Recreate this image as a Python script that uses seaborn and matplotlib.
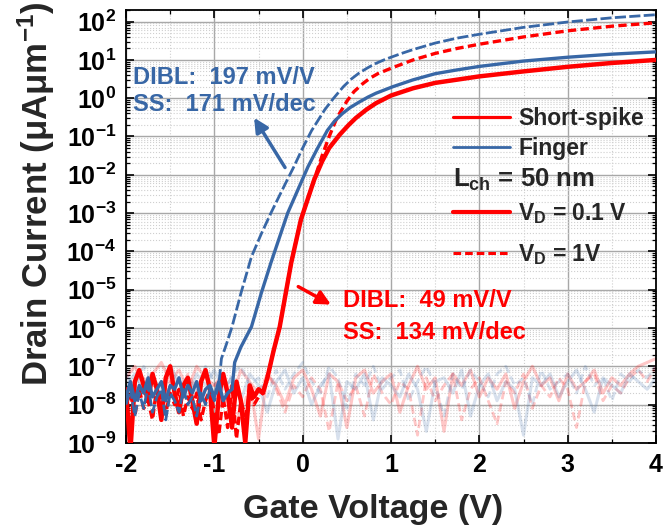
import numpy as np
import matplotlib
matplotlib.use("Agg")
import matplotlib.pyplot as plt
import seaborn as sns
from matplotlib.lines import Line2D
from matplotlib.ticker import LogLocator, FuncFormatter, MultipleLocator, NullFormatter, FixedLocator

# ---------------- data (log10 of drain current, uA/um) ----------------
# main curves: Finger (blue) and Short-spike (red); VD=0.1 V solid, VD=1 V dashed
bd_floor = [-8.0, -7.6, -8.3, -7.7, -8.1, -7.5, -8.2, -7.8, -7.6, -8.4, -7.7,
            -7.9, -8.2, -7.6, -8.0, -7.8, -8.3, -7.7, -8.0, -7.6, -7.9]
bd_x = [-0.95, -0.92, -0.86, -0.80, -0.70, -0.58, -0.47, -0.36, -0.20, -0.10, 0.00, 0.10,
        0.25, 0.35, 0.46, 0.55, 0.64, 0.74, 0.83, 0.92, 1.00, 1.12, 1.25, 1.50, 1.75,
        2.00, 2.50, 3.00, 3.50, 4.00]
bd_y = [-7.5, -6.8, -6.4, -5.97, -5.1, -4.14, -3.55, -3.0, -2.25, -1.79, -1.3, -0.85,
        -0.3, 0.0, 0.3, 0.5, 0.66, 0.8, 0.91, 1.0, 1.07, 1.17, 1.27, 1.44, 1.57,
        1.67, 1.85, 1.99, 2.1, 2.18]

bs_floor = [-7.8, -7.4, -7.9, -7.5, -7.7, -7.3, -7.8, -7.6, -7.4, -7.9, -7.5, -7.6,
            -7.3, -7.8, -7.5, -7.7, -7.4, -7.9, -7.6, -7.5, -7.8, -7.4, -7.9, -7.7]
bs_x = [-0.80, -0.77, -0.70, -0.58, -0.47, -0.36, -0.17, 0.06, 0.17, 0.28, 0.36, 0.45,
        0.54, 0.64, 0.74, 0.83, 1.02, 1.25, 1.50, 1.75, 2.00, 2.50, 3.00, 3.50, 4.00]
bs_y = [-7.6, -6.9, -6.5, -5.97, -5.1, -4.3, -3.0, -1.79, -1.3, -0.84, -0.6, -0.4,
        -0.24, -0.1, 0.03, 0.13, 0.3, 0.48, 0.64, 0.74, 0.83, 0.97, 1.07, 1.15, 1.21]

rd_floor = [-8.0, -7.7, -8.3, -7.6, -8.1, -7.9, -8.4, -7.5, -7.9, -8.2, -7.7, -8.0,
            -7.6, -8.3, -7.8, -8.1, -7.7, -8.4, -7.9, -7.6, -8.2, -8.8, -7.8, -8.6,
            -7.5, -8.9, -7.9, -8.3, -7.7, -8.0, -7.8]
rd_x = [-0.45, -0.40, -0.33, -0.26, -0.13, -0.02, 0.13, 0.22, 0.30, 0.39, 0.50, 0.58,
        0.68, 0.76, 0.85, 1.02, 1.25, 1.50, 1.75, 2.00, 2.50, 3.00, 3.50, 4.00]
rd_y = [-7.7, -7.3, -6.6, -5.97, -4.3, -3.17, -2.13, -1.5, -1.0, -0.5, -0.08, 0.17,
        0.38, 0.52, 0.64, 0.8, 1.0, 1.17, 1.3, 1.41, 1.6, 1.76, 1.88, 1.97]

rs_floor = [-7.6, -9.2, -7.4, -7.1, -7.5, -7.9, -7.2, -7.6, -8.4, -7.3, -7.0, -7.7,
            -8.2, -7.5, -7.3, -7.9, -8.5, -7.4, -7.1, -7.6, -9.1, -7.8, -7.2, -7.7,
            -8.6, -7.4, -7.9, -9.0, -7.5, -7.8, -7.6]
rs_x = [-0.45, -0.40, -0.33, -0.26, -0.13, -0.02, 0.13, 0.22, 0.30, 0.42, 0.52, 0.60,
        0.72, 0.83, 1.00, 1.25, 1.50, 2.00, 2.50, 3.00, 3.50, 4.00]
rs_y = [-7.7, -7.3, -6.6, -5.97, -4.3, -3.17, -2.13, -1.65, -1.3, -0.95, -0.7, -0.52,
        -0.3, -0.13, 0.07, 0.26, 0.4, 0.57, 0.7, 0.82, 0.92, 1.0]

# faded noise-floor traces spanning -2..4 V
fade_rs = [-7.3, -7.0, -7.5, -7.2, -6.9, -7.4, -7.1, -7.6, -7.0, -7.3,
           -7.5, -7.2, -7.8, -7.1, -7.4, -8.9, -7.2, -7.5, -8.0, -7.3,
           -7.1, -7.6, -8.3, -7.2, -7.4, -8.6, -7.3, -7.1, -7.7, -7.4,
           -7.2, -8.2, -7.5, -7.0, -7.6, -7.3, -8.7, -7.2, -7.5, -7.1,
           -7.8, -7.3, -7.6, -7.2, -8.1, -7.4, -7.0, -7.5, -7.3, -7.9,
           -7.2, -7.6, -7.4, -7.1, -7.7, -7.3, -7.5, -7.2, -7.0, -6.9, -6.8]
fade_rd = [-7.6, -7.9, -7.3, -7.7, -8.1, -7.4, -7.8, -7.2, -7.6, -8.0,
           -7.5, -7.3, -7.9, -8.4, -7.4, -7.7, -7.2, -7.6, -8.2, -7.5,
           -7.8, -7.3, -7.6, -8.7, -7.4, -7.9, -7.5, -8.3, -7.2, -7.7,
           -8.0, -7.4, -7.6, -8.8, -7.3, -7.9, -7.5, -7.2, -8.4, -7.6,
           -7.3, -7.9, -8.5, -7.4, -7.7, -7.2, -8.1, -7.5, -7.8, -7.3,
           -7.6, -8.6, -7.4, -7.2, -7.9, -7.5, -7.7, -7.3, -7.1, -7.4, -7.0]
fade_bs = [-7.5, -7.2, -7.7, -7.3, -7.6, -7.0, -7.4, -7.8, -7.2, -7.5,
           -7.1, -7.6, -7.3, -7.9, -7.2, -7.5, -8.2, -7.4, -7.1, -7.7,
           -7.3, -8.0, -7.5, -7.2, -8.9, -7.4, -7.6, -7.2, -8.4, -7.3,
           -7.5, -7.8, -7.2, -7.6, -8.7, -7.4, -7.3, -7.7, -7.1, -8.3,
           -7.5, -7.2, -7.9, -7.4, -7.6, -8.8, -7.3, -7.5, -7.2, -7.8,
           -7.4, -7.1, -7.6, -8.2, -7.3, -7.5, -7.7, -7.2, -7.4, -7.6, -7.3]
fade_bd = [-7.2, -7.6, -7.0, -7.4, -7.8, -7.1, -7.5, -7.3, -7.7, -7.0,
           -7.4, -7.9, -7.2, -7.0, -7.5, -7.3, -7.8, -7.1, -7.6, -7.2,
           -6.9, -7.4, -7.7, -7.0, -7.3, -8.1, -7.2, -7.5, -7.0, -7.6,
           -7.3, -7.1, -7.9, -7.4, -7.0, -7.5, -8.3, -7.2, -7.6, -7.1,
           -7.4, -7.8, -7.2, -7.0, -7.5, -7.3, -8.0, -7.1, -7.6, -7.4,
           -7.2, -7.7, -7.0, -7.5, -7.3, -7.9, -7.2, -7.4, -7.1, -7.3, -7.0]

x_ticks = [-2, -1, 0, 1, 2, 3, 4]
y_decades = list(range(-9, 3))

RED = "#ff0000"
BLUE = "#3867a6"

# ---------------- style ----------------
sns.set_theme(style="ticks")
plt.rcParams["font.family"] = ["Liberation Sans", "DejaVu Sans"]
plt.rcParams["font.weight"] = "bold"
plt.rcParams["axes.labelweight"] = "bold"
plt.rcParams["mathtext.fontset"] = "custom"
plt.rcParams["mathtext.rm"] = "Liberation Sans:bold"
plt.rcParams["mathtext.bf"] = "Liberation Sans:bold"
plt.rcParams["mathtext.it"] = "Liberation Sans:bold:italic"
plt.rcParams["mathtext.default"] = "rm"
plt.rcParams["axes.unicode_minus"] = False

W = 0.797
fig = plt.figure(figsize=(6.65, 5.31), dpi=100)
ax = fig.add_axes([0.1895, 0.166, W, 0.815])
ax.set_yscale("log")


def draw(xs, logy, color, lw, ls, alpha=1.0, z=3):
    sns.lineplot(x=np.asarray(xs, float), y=10.0 ** np.asarray(logy, float), ax=ax,
                 color=color, linewidth=lw, linestyle=ls, alpha=alpha,
                 estimator=None, sort=False, zorder=z)


xf = np.linspace(-2, 4, len(fade_rs))
draw(xf, fade_rs, RED, 2.2, "-", 0.22, 2)
draw(xf, fade_rd, RED, 2.0, (0, (3, 1.5)), 0.22, 2)
draw(xf, fade_bs, BLUE, 2.2, "-", 0.2, 2)
draw(xf, fade_bd, BLUE, 2.0, (0, (3, 1.5)), 0.2, 2)

bd_fx = list(np.linspace(-2.0, -1.0, len(bd_floor)))
bs_fx = list(np.linspace(-2.0, -0.85, len(bs_floor)))
rd_fx = list(np.linspace(-2.0, -0.50, len(rd_floor)))
rs_fx = list(np.linspace(-2.0, -0.50, len(rs_floor)))

draw(rs_fx + rs_x, rs_floor + rs_y, RED, 3.2, "-", 1.0, 4)
draw(rd_fx + rd_x, rd_floor + rd_y, RED, 2.4, (0, (2.5, 1.3)), 1.0, 4)
draw(bs_fx + bs_x, bs_floor + bs_y, BLUE, 2.4, "-", 1.0, 5)
draw(bd_fx + bd_x, bd_floor + bd_y, BLUE, 2.0, (0, (4, 1.2)), 1.0, 5)

# ---------------- axes ----------------
ax.set_xlim(-2, 4)
ax.set_ylim(1e-9, 2e2)
ax.xaxis.set_major_locator(FixedLocator(x_ticks))
ax.xaxis.set_minor_locator(MultipleLocator(0.5))
ax.xaxis.set_major_formatter(FuncFormatter(lambda v, p: "%d" % round(v)))
ax.yaxis.set_major_locator(FixedLocator([10.0 ** d for d in y_decades]))
ax.yaxis.set_minor_locator(LogLocator(base=10, subs=np.arange(2, 10), numticks=30))
ax.yaxis.set_minor_formatter(NullFormatter())
ax.yaxis.set_major_formatter(FuncFormatter(lambda v, p: r"$10^{%d}$" % round(np.log10(v))))

ax.grid(True, which="major", color="#a8a8a8", linewidth=1.0, linestyle="-", zorder=0)
ax.grid(True, which="minor", color="#cfcfcf", linewidth=0.8, linestyle=":", zorder=0)
ax.set_axisbelow(True)

ax.tick_params(which="both", direction="in", top=True, right=True, colors="black")
ax.tick_params(which="major", length=6, width=1.2, labelsize=18, pad=7)
ax.tick_params(which="minor", length=3, width=0.9)
for lab in ax.get_xticklabels() + ax.get_yticklabels():
    lab.set_fontweight("bold")
for s in ax.spines.values():
    s.set_linewidth(1.3)
    s.set_color("black")

ax.set_xlabel("Gate Voltage (V)", fontsize=24.5, fontweight="bold", va="center")
ax.xaxis.set_label_coords((373 - 126) / 530, -0.155)
ax.set_ylabel(r"Drain Current ($\mu$A$\mu$m$^{-1}$)", fontsize=25, fontweight="bold", va="center")
ax.yaxis.set_label_coords((36 - 126) / 530, 0.575)


def axx(px):
    return (px - 126) / 530.0


# ---------------- annotations ----------------
ax.text(axx(133), 0.845, "DIBL:  197 mV/V", transform=ax.transAxes, color=BLUE,
        fontsize=17, fontweight="bold", va="center", ha="left")
ax.text(axx(133), 0.781, "SS:  171 mV/dec", transform=ax.transAxes, color=BLUE,
        fontsize=17, fontweight="bold", va="center", ha="left")
ax.text(axx(343), 0.330, "DIBL:  49 mV/V", transform=ax.transAxes, color=RED,
        fontsize=17, fontweight="bold", va="center", ha="left")
ax.text(axx(343), 0.256, "SS:  134 mV/dec", transform=ax.transAxes, color=RED,
        fontsize=17, fontweight="bold", va="center", ha="left")

ax.annotate("", xy=(-0.55, 10 ** -0.51), xytext=(-0.2, 10 ** -1.81),
            arrowprops=dict(arrowstyle="-|>,head_length=0.7,head_width=0.35",
                            color=BLUE, lw=2.5, shrinkA=0, shrinkB=0), zorder=6)
ax.annotate("", xy=(0.32, 10 ** -5.39), xytext=(-0.05, 10 ** -4.92),
            arrowprops=dict(arrowstyle="-|>,head_length=0.7,head_width=0.35",
                            color=RED, lw=2.5, shrinkA=0, shrinkB=0), zorder=6)

# ---------------- legends ----------------
h1 = [Line2D([], [], color=RED, lw=2.3), Line2D([], [], color=BLUE, lw=2.0)]
leg1 = ax.legend(h1, ["Short-spike", "Finger"], loc="center left",
                 bbox_to_anchor=(axx(453), 0.715), frameon=False, borderpad=0,
                 borderaxespad=0, handlelength=2.5, handletextpad=0.35,
                 labelspacing=0.3, prop={"size": 16.5, "weight": "bold"})
ax.add_artist(leg1)
h2 = [Line2D([], [], color=RED, lw=3.0), Line2D([], [], color=RED, lw=2.2, ls=(0, (2.5, 1.3)))]
ax.legend(h2, [r"V$_{D}$ = 0.1 V", r"V$_{D}$ = 1V"], loc="center left",
          bbox_to_anchor=(axx(453), 0.482), frameon=False, borderpad=0,
          borderaxespad=0, handlelength=2.5, handletextpad=0.35,
          labelspacing=0.72, prop={"size": 16.5, "weight": "bold"})
ax.text(axx(453), 0.607, r"L$_{ch}$ = 50 nm", transform=ax.transAxes, fontsize=18.5,
        fontweight="bold", va="center", ha="left")

fig.savefig("out.png", dpi=100)
